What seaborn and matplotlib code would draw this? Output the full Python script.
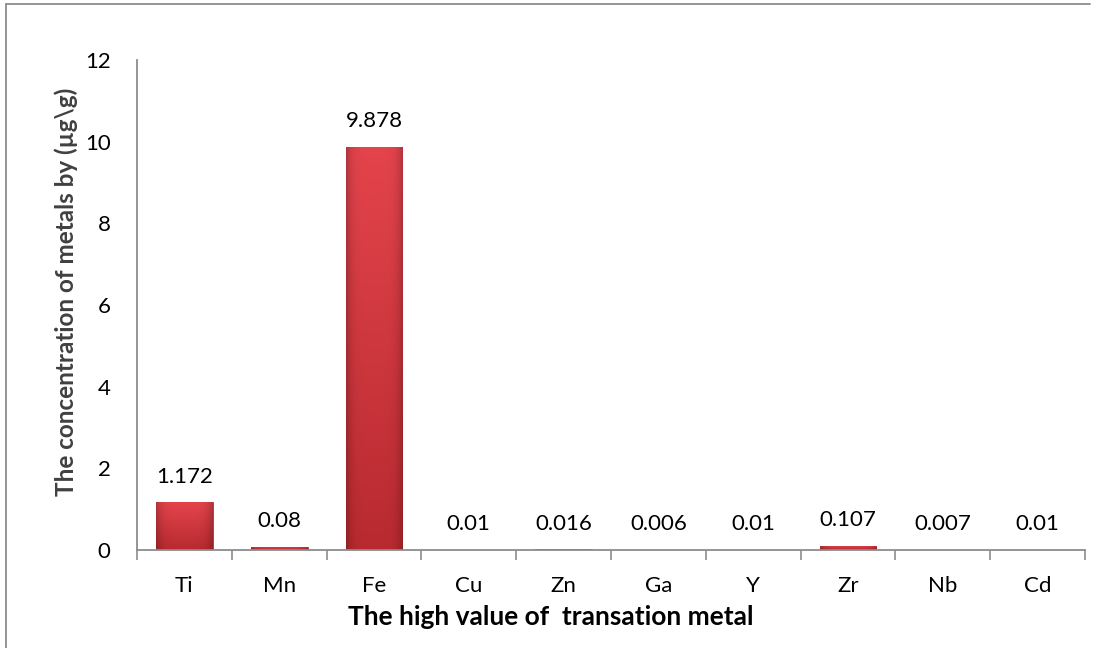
import numpy as np
import pandas as pd
import matplotlib
matplotlib.use("Agg")
import matplotlib.pyplot as plt
from matplotlib.colors import to_rgb
from matplotlib.ticker import FixedLocator
import seaborn as sns

metals = ["Ti", "Mn", "Fe", "Cu", "Zn", "Ga", "Y", "Zr", "Nb", "Cd"]
concentration = [1.172, 0.08, 9.878, 0.01, 0.016, 0.006, 0.01, 0.107, 0.007, 0.01]
value_labels = ["1.172", "0.08", "9.878", "0.01", "0.016", "0.006", "0.01", "0.107", "0.007", "0.01"]
y_ticks = [0, 2, 4, 6, 8, 10, 12]

sns.set_theme(style="white")
plt.rcParams["font.family"] = ["Lato", "DejaVu Sans"]

df = pd.DataFrame({"metal": metals, "value": concentration})

fig = plt.figure(figsize=(10.94, 6.48), dpi=100)
ax = fig.add_axes([137 / 1094, 1 - 550 / 648, (1085 - 137) / 1094, (550 - 60) / 648])

sns.barplot(data=df, x="metal", y="value", color="#CC343A", width=0.6,
            saturation=1, ax=ax, edgecolor="#9A2226", linewidth=0.5)

# shaded fill for the bars: lighter at the top, darker towards the base and the sides
top_c = np.array(to_rgb("#E4444C"))
bot_c = np.array(to_rgb("#B82A30"))
ny, nx = 128, 64
t = np.linspace(1, 0, ny)[:, None, None]
s = np.linspace(0, 1, nx)[None, :, None]
edge = np.abs(2 * s - 1) ** 5
shade = (bot_c + (top_c - bot_c) * t) * (1 - 0.22 * edge)
shade = np.clip(shade, 0, 1)
for patch in list(ax.patches):
    x0, y0 = patch.get_x(), patch.get_y()
    w, h = patch.get_width(), patch.get_height()
    if h <= 0:
        continue
    im = ax.imshow(shade, aspect="auto", extent=(x0, x0 + w, y0, y0 + h),
                   zorder=patch.get_zorder() + 0.1, interpolation="bilinear")
    im.set_clip_path(patch)

# value labels above each bar
for i, (v, lab) in enumerate(zip(concentration, value_labels)):
    ax.annotate(lab, xy=(i, v), xytext=(0, 14), textcoords="offset points",
                ha="center", va="baseline", fontsize=16, color="#000000")

ax.set_xlim(-0.5, len(metals) - 0.5)
ax.set_ylim(0, 12)
ax.set_yticks(y_ticks)
ax.set_yticklabels([str(t) for t in y_ticks], fontsize=16, color="#000000")
ax.tick_params(axis="y", length=0, pad=19)

ax.set_xticks(range(len(metals)))
ax.set_xticklabels(metals, fontsize=16, color="#000000")
ax.tick_params(axis="x", which="major", length=0, pad=19)
ax.xaxis.set_minor_locator(FixedLocator(np.arange(-0.5, len(metals), 1.0)))
ax.tick_params(axis="x", which="minor", bottom=True, length=7, width=1.2, color="#8C8C8C",
               direction="out")

for side in ["top", "right"]:
    ax.spines[side].set_visible(False)
for side in ["left", "bottom"]:
    ax.spines[side].set_color("#8C8C8C")
    ax.spines[side].set_linewidth(1.3)

ax.set_xlabel("")
ax.set_ylabel("")
fig.text(551 / 1094, 1 - 617 / 648, "The high value of  transation metal", ha="center",
         va="center", fontsize=19, fontweight="bold", color="#000000")
fig.text(66 / 1094, 1 - 292 / 648, "The concentration of metals by (µg\\g)", ha="center",
         va="center", rotation=90, fontsize=17.5, fontweight="bold", color="#404040")

# chart frame lines
fig.add_artist(plt.Line2D([6 / 1094, 6 / 1094], [0, 1 - 4 / 648], transform=fig.transFigure,
                          color="#8C8C8C", linewidth=1.3))
fig.add_artist(plt.Line2D([6 / 1094, 1090 / 1094], [1 - 4 / 648, 1 - 4 / 648],
                          transform=fig.transFigure, color="#8C8C8C", linewidth=1.3))

fig.savefig("out.png", dpi=100, facecolor="white")
